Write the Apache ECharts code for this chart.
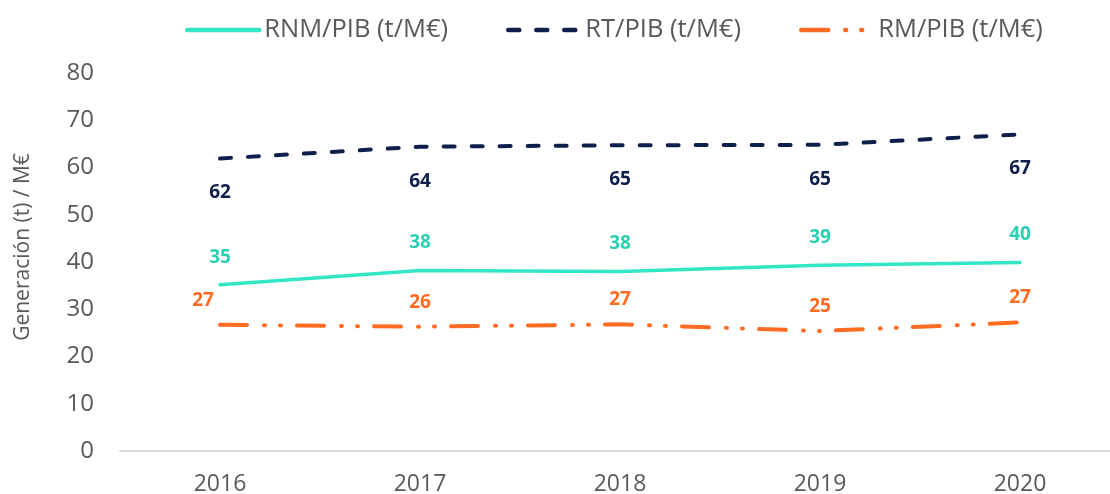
<!DOCTYPE html>
<html>
<head>
<meta charset="utf-8">
<script src="https://cdn.jsdelivr.net/npm/echarts@6/dist/echarts.min.js"></script>
<style>html,body{margin:0;padding:0;background:#fff}#c{width:1110px;height:494px}</style>
</head>
<body>
<div id="c"></div>
<script>
const categories = ['2016', '2017', '2018', '2019', '2020'];
const rnm = [35.2, 38.2, 38.0, 39.3, 39.9];
const rt = [61.9, 64.4, 64.7, 64.8, 67.0];
const rm = [26.7, 26.3, 26.8, 25.4, 27.2];
const seriesNames = ['RNM/PIB (t/M€)', 'RT/PIB (t/M€)', 'RM/PIB (t/M€)'];
const yTicks = [0, 10, 20, 30, 40, 50, 60, 70, 80];

const FONT = '"Open Sans", sans-serif';
const GREY = '#595959';
const C_RNM = '#33E6C4', C_RNM_L = '#2BD1B2';
const C_RT = '#0E1F4B';
const C_RM = '#FF6B22';

const chart = echarts.init(document.getElementById('c'));

function lbl(color, pos, dist) {
  return { show: true, position: pos, distance: dist, color: color,
    fontFamily: FONT, fontWeight: 'bold', fontSize: 19,
    formatter: p => Math.round(p.value) };
}

const rmData = rm.map((v, i) => i === 0 ? { value: v, label: { offset: [-17, 0] } } : v);

const common = { type: 'line', symbol: 'circle', symbolSize: 0, showSymbol: true };

chart.setOption({
  animation: false,
  textStyle: { fontFamily: FONT },
  legend: {
    left: 180, top: 12, itemWidth: 72, itemHeight: 24, itemGap: 58,
    itemStyle: { opacity: 0 },
    lineStyle: { width: 4.5 },
    textStyle: { color: GREY, fontSize: 25.5, fontFamily: FONT },
    data: seriesNames
  },
  grid: { left: 120, right: -10, top: 73, bottom: 43, containLabel: false, outerBoundsMode: 'none' },
  xAxis: {
    type: 'category', data: categories, boundaryGap: true,
    axisLine: { lineStyle: { color: '#D9D9D9', width: 2 } },
    axisTick: { show: false },
    axisLabel: { color: GREY, fontSize: 23, margin: 22, fontFamily: FONT },
    splitLine: { show: false }
  },
  yAxis: {
    type: 'value', min: yTicks[0], max: yTicks[yTicks.length - 1], interval: 10,
    name: 'Generación (t) / M€', nameLocation: 'middle', nameGap: 86,
    nameTextStyle: { color: GREY, fontSize: 21, fontFamily: FONT, padding: [0, 0, 0, 30] },
    axisLine: { show: false }, axisTick: { show: false },
    axisLabel: { color: GREY, fontSize: 24, margin: 26, fontFamily: FONT },
    splitLine: { show: false }
  },
  series: [
    Object.assign({}, common, { name: seriesNames[0], data: rnm,
      lineStyle: { color: C_RNM, width: 3.5, cap: 'round' }, itemStyle: { color: C_RNM },
      label: lbl(C_RNM_L, 'top', 18), z: 3 }),
    Object.assign({}, common, { name: seriesNames[1], data: rt,
      lineStyle: { color: C_RT, width: 4, type: [11, 17], cap: 'round' }, itemStyle: { color: C_RT },
      label: lbl(C_RT, 'bottom', 25), z: 2 }),
    Object.assign({}, common, { name: seriesNames[2], data: rmData,
      lineStyle: { color: C_RM, width: 4, type: [27, 17, 1, 15, 1, 16], cap: 'round' }, itemStyle: { color: C_RM },
      label: lbl(C_RM, 'top', 15), z: 2 })
  ]
});
</script>
</body>
</html>
